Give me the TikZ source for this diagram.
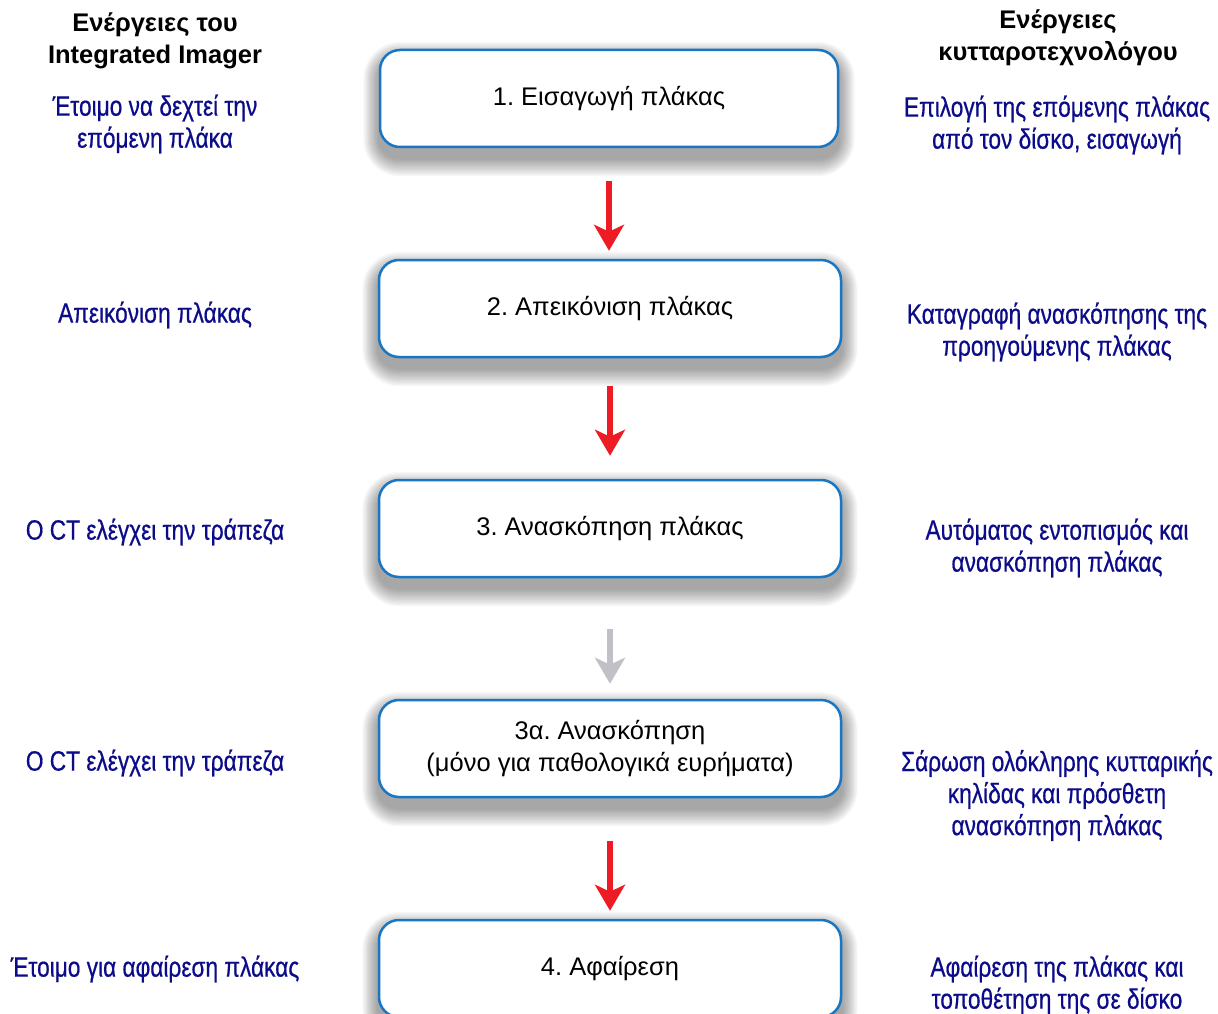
\documentclass[tikz,border=0pt]{standalone}
\usepackage{fontspec}
\setmainfont{Liberation Sans}
\newfontfamily\narrowfont[FakeStretch=0.81,FakeBold=0.6]{Liberation Sans}
\usetikzlibrary{arrows.meta,backgrounds,calc}
\definecolor{boxblue}{RGB}{24,118,194}
\definecolor{navytext}{RGB}{12,12,138}
\definecolor{arrred}{RGB}{237,28,36}
\definecolor{arrgray}{RGB}{192,192,198}
\tikzset{
  stepbox/.style={draw=boxblue, line width=2.5pt, rounded corners=20pt, fill=white,
    minimum width=462pt, minimum height=97pt, inner sep=0pt, align=center,
    font=\fontsize{25.5}{32}\selectfont},
  shadowlayer/.style={fill=black, fill opacity=0.028, draw=none},
  header/.style={align=center, font=\fontsize{25.5}{32}\selectfont\bfseries, text=black, inner sep=0pt},
  note/.style={align=center, font=\narrowfont\fontsize{28}{32}\selectfont, text=navytext, inner sep=0pt},
  flow/.style={line width=6pt, -{Stealth[length=26pt, width=30pt, inset=7pt]}},
}
\begin{document}
\frenchspacing
\begin{tikzpicture}[x=1pt, y=-1pt]
\useasboundingbox (0,0) rectangle (1218,1014);

% boxes
\node[stepbox, minimum width=458pt] (b1) at (609,98.5) {1. Εισαγωγή πλάκας};
\node[stepbox] (b2) at (610,308.5) {2. Απεικόνιση πλάκας};
\node[stepbox] (b3) at (610,528.5) {3. Ανασκόπηση πλάκας};
\node[stepbox] (b3a) at (610,748.5) {3α. Ανασκόπηση\\(μόνο για παθολογικά ευρήματα)};
\node[stepbox] (b4) at (610,968.5) {4. Αφαίρεση};

% white page and soft shadows behind the boxes
\begin{scope}[on background layer]
\fill[white] (0,0) rectangle (1218,1014);
\foreach \n in {b1,b2,b3,b3a,b4}{
  \foreach \i in {1,...,14}{
    \fill[shadowlayer, rounded corners={20pt+\i*1.2pt}]
      ($(\n.north west)+(-\i*1.1,-\i*1.2+10)$) rectangle ($(\n.south east)+(\i*1.1,\i*1.3+10)$);
  }
}
\end{scope}

% arrows
\draw[flow, draw=arrred, fill=arrred, shorten <=33pt, shorten >=8pt] (b1.south) -- (b1.south |- b2.north);
\draw[flow, draw=arrred, fill=arrred, shorten <=28pt, shorten >=23pt] (b2.south) -- (b3.north);
\draw[flow, draw=arrgray, fill=arrgray, shorten <=51pt, shorten >=15pt] (b3.south) -- (b3a.north);
\draw[flow, draw=arrred, fill=arrred, shorten <=43pt, shorten >=8pt] (b3a.south) -- (b4.north);

% headers
\node[header] (hl) at (155,41) {Ενέργειες του\\Integrated Imager};
\node[header] (hr) at (1058,38) {Ενέργειες\\κυτταροτεχνολόγου};

% left notes
\node[note] (l1) at (155,124) {Έτοιμο να δεχτεί την\\επόμενη πλάκα};
\node[note] (l2) at (155,315) {Απεικόνιση πλάκας};
\node[note] (l3) at (155,532) {Ο CT ελέγχει την τράπεζα};
\node[note] (l4) at (155,763) {Ο CT ελέγχει την τράπεζα};
\node[note] (l5) at (155,969) {Έτοιμο για αφαίρεση πλάκας};

% right notes
\node[note] (r1) at (1057,125) {Επιλογή της επόμενης πλάκας\\από τον δίσκο, εισαγωγή};
\node[note] (r2) at (1057,332) {Καταγραφή ανασκόπησης της\\προηγούμενης πλάκας};
\node[note] (r3) at (1057,548) {Αυτόματος εντοπισμός και\\ανασκόπηση πλάκας};
\node[note] (r4) at (1057,795.5) {Σάρωση ολόκληρης κυτταρικής\\κηλίδας και πρόσθετη\\ανασκόπηση πλάκας};
\node[note] (r5) at (1057,985) {Αφαίρεση της πλάκας και\\τοποθέτηση της σε δίσκο};
\end{tikzpicture}
\end{document}
